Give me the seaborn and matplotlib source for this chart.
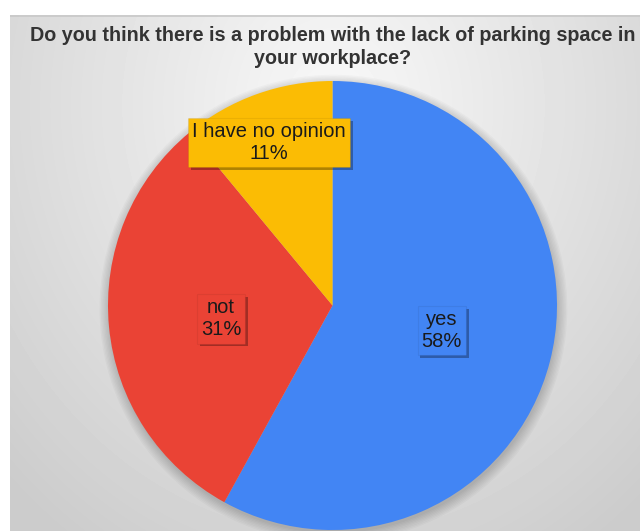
import numpy as np
import matplotlib
matplotlib.use('Agg')
import matplotlib.pyplot as plt
import matplotlib.patheffects as pe
from matplotlib.patches import Circle
import seaborn as sns

# Survey answers and their shares (percent)
answers = ['yes', 'not', 'I have no opinion']
shares = [58, 31, 11]
slice_colors = ['#4285F4', '#EA4335', '#FBBC04']
label_dist = [0.5, 0.5, 0.78]
title = 'Do you think there is a problem with the lack of parking space in\nyour workplace?'

sns.set_style('white')
plt.rcParams['font.family'] = ['Liberation Sans', 'DejaVu Sans']

fig = plt.figure(figsize=(6.4, 5.31), dpi=100)
fig.patch.set_facecolor('white')

# Gray gradient panel behind the chart
bg = fig.add_axes([10 / 640, 0, 630 / 640, 516 / 531])
bg.set_axis_off()
yy, xx = np.mgrid[0:516, 0:630]
dist = np.sqrt(((xx - 323) / 420.0) ** 2 + ((yy - 90) / 480.0) ** 2)
shade = np.clip(0.975 - 0.16 * dist, 0.8, 0.975)
bg.imshow(shade, cmap='gray', vmin=0, vmax=1, aspect='auto',
          extent=[0, 1, 0, 1], origin='upper')
bg.plot([0, 1], [0.999, 0.999], color='#c8c8c8', lw=1.2, transform=bg.transAxes)
bg.set_xlim(0, 1)
bg.set_ylim(0, 1)

# Pie axes: square box placed over the panel
ax = fig.add_axes([108 / 640, 1 / 531, 449 / 640, 449 / 531])
ax.set_axis_off()

# soft halo around the pie
for k in range(8):
    ax.add_patch(Circle((0.004, -0.014), 1.0 + 0.006 * k, color='black',
                        alpha=0.025, lw=0, zorder=0, clip_on=False))

wedges, _ = ax.pie(shares, colors=sns.color_palette(slice_colors), startangle=90,
                   counterclock=False, radius=1.0,
                   wedgeprops={'linewidth': 0, 'zorder': 1, 'clip_on': False})

for w, name, pct, d, c in zip(wedges, answers, shares, label_dist, slice_colors):
    mid = np.deg2rad((w.theta1 + w.theta2) / 2 + 1.5)
    txt = ax.text(d * np.cos(mid), d * np.sin(mid), f'{name}\n{pct}%',
                  ha='center', va='center', fontsize=14.5, color='#1a1a1a',
                  linespacing=1.2, zorder=5, clip_on=False,
                  bbox=dict(boxstyle='square,pad=0.2', facecolor=c,
                            edgecolor=(0, 0, 0, 0.06), lw=0.8))
    txt.get_bbox_patch().set_path_effects([
        pe.SimplePatchShadow(offset=(2, -2), alpha=0.3, shadow_rgbFace='black'),
        pe.Normal()])

ax.set_xlim(-1, 1)
ax.set_ylim(-1, 1)
ax.set_aspect('auto')

fig.text(333 / 640, 1 - 47 / 531, title, ha='center', va='center',
         fontsize=14.2, fontweight='bold', color='#333333', linespacing=1.25)

fig.savefig('out.png', dpi=100)
